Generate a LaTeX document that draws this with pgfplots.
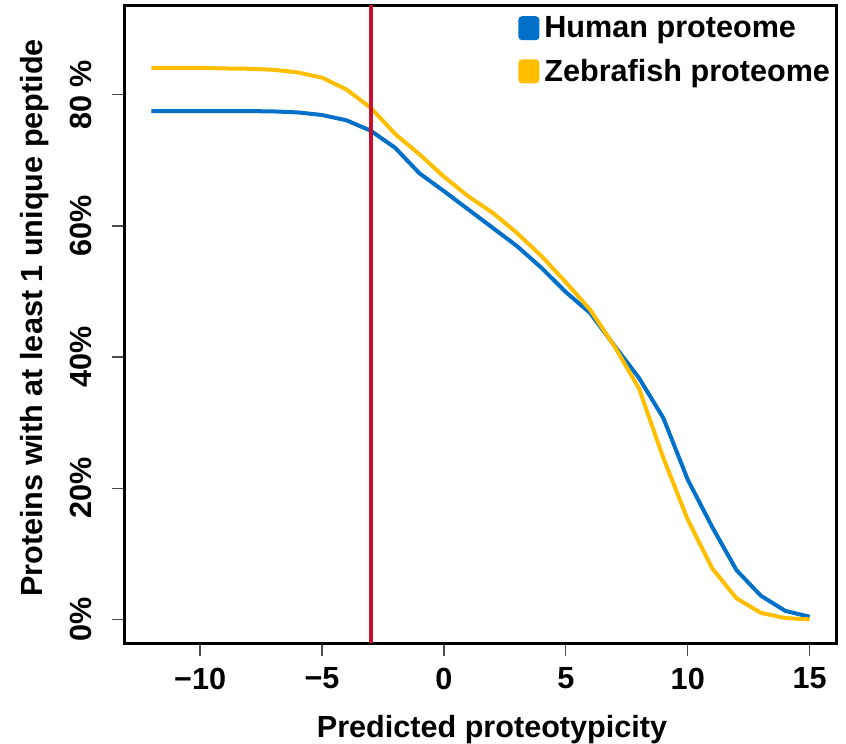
\documentclass[border=0pt]{standalone}
\usepackage{fontspec}
\setmainfont{Liberation Sans}
\usepackage{pgfplots}
\pgfplotsset{compat=1.18}

\definecolor{humanblue}{RGB}{0,112,200}
\definecolor{zebragold}{RGB}{255,190,0}
\definecolor{cutred}{RGB}{200,16,46}

\newcommand{\bigfont}{\fontsize{30.6bp}{34bp}\selectfont\bfseries}

\begin{document}
\begin{tikzpicture}
\useasboundingbox (-125bp,-101bp) rectangle (721bp,643bp);
\begin{axis}[
  at={(0,0)}, anchor=south west,
  scale only axis,
  width=711bp, height=637.5bp,
  xmin=-13.08, xmax=16.08,
  ymin=-3.6, ymax=93.6,
  axis line style={line width=3bp, black},
  tick pos=left,
  tick align=outside,
  major tick length=12.5bp,
  tick style={line width=1.3bp, black!70},
  xtick={-10,-5,0,5,10,15},
  xticklabels={−10,−5,0,5,10,15},
  ytick={0,20,40,60,80},
  yticklabels={0\%,20\%,40\%,60\%,80 \%},
  xticklabel style={font=\bigfont, anchor=north, inner sep=0pt},
  yticklabel style={font=\bigfont, rotate=90, anchor=south, inner sep=0pt},
  xticklabel shift=12bp,
  yticklabel shift=21bp,
  legend style={draw=none, fill=none, font=\bigfont,
    at={(rel axis cs:0.553,0.9855)}, anchor=north west,
    inner sep=0pt, row sep=16bp,
    cells={anchor=west}},
  legend image code/.code={%
    \fill[#1, rounded corners=2bp] (0bp,-10bp) rectangle (17bp,10bp);
    \path[draw=none, fill=none] (0bp,0bp) -- (22bp,0bp);},
]
% share of proteins keeping at least one unique peptide above each threshold
\addplot[color=humanblue, line width=4bp] coordinates {
  (-12,77.5) (-11,77.5) (-10,77.5) (-9,77.5) (-8,77.5) (-7,77.45)
  (-6,77.3) (-5,76.9) (-4,76.1) (-3,74.5) (-2,71.9) (-1,68.0)
  (0,65.3) (1,62.5) (2,59.7) (3,56.9) (4,53.6) (5,49.9)
  (6,46.7) (7,41.7) (8,36.8) (9,30.7) (10,21.3) (11,14.1)
  (12,7.5) (13,3.6) (14,1.3) (15,0.4)
};
\addlegendentry{Human proteome}
\addplot[color=zebragold, line width=4bp] coordinates {
  (-12,84.1) (-11,84.1) (-10,84.1) (-9,84.0) (-8,83.95) (-7,83.8)
  (-6,83.4) (-5,82.6) (-4,80.8) (-3,78.0) (-2,74.0) (-1,70.9)
  (0,67.5) (1,64.5) (2,62.0) (3,58.9) (4,55.4) (5,51.4)
  (6,47.2) (7,41.6) (8,35.2) (9,24.6) (10,15.2) (11,7.8)
  (12,3.2) (13,1.0) (14,0.2) (15,0.0)
};
\addlegendentry{Zebrafish proteome}
% proteotypicity cut-off
\addplot[color=cutred, line width=3.5bp, forget plot] coordinates {(-3,-3.6) (-3,93.6)};
\end{axis}
\node[font=\bigfont, anchor=base] at (367bp,-94bp) {Predicted proteotypicity};
\node[font=\bigfont, rotate=90, anchor=base] at (-82bp,325bp) {Proteins with at least 1 unique peptide};
\end{tikzpicture}
\end{document}
